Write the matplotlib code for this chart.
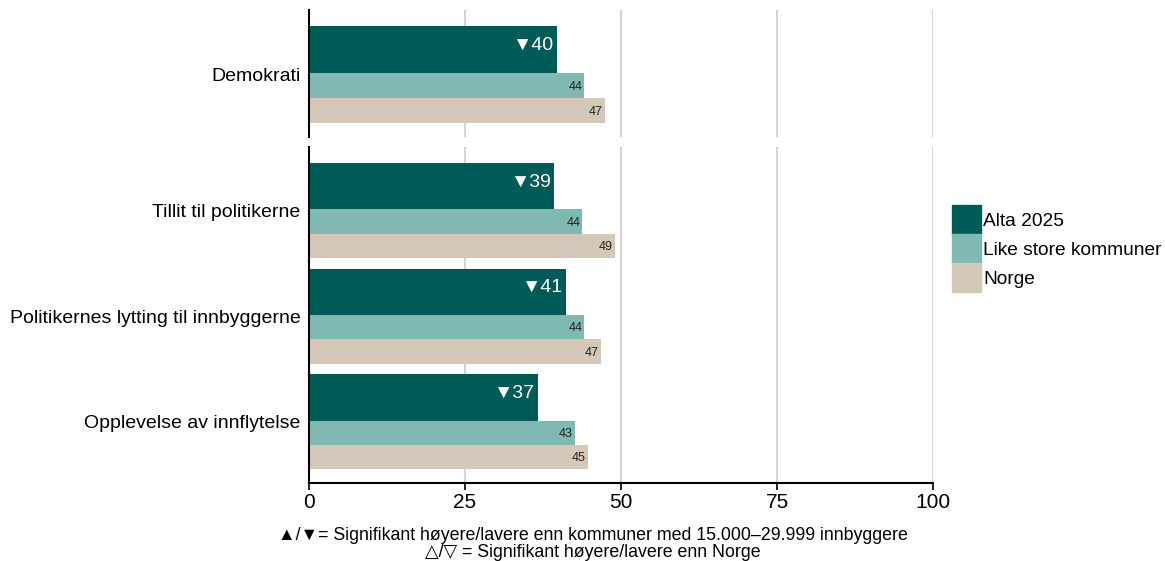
import numpy as np
import matplotlib
matplotlib.use("Agg")
import matplotlib.pyplot as plt
from matplotlib.patches import Patch

plt.rcParams['font.family'] = ['Liberation Sans', 'DejaVu Sans']

# data
top_cats = ["Demokrati"]
bottom_cats = ["Tillit til politikerne",
               "Politikernes lytting til innbyggerne",
               "Opplevelse av innflytelse"]
alta = [39.7, 39.3, 41.2, 36.7]
like = [44.1, 43.8, 44.1, 42.6]
norge = [47.4, 49.0, 46.8, 44.7]
alta_marks = ["\u25bc", "\u25bc", "\u25bc", "\u25bc"]
series_names = ["Alta 2025", "Like store kommuner", "Norge"]
xticks = [0, 25, 50, 75, 100]

c_alta = "#005a57"
c_like = "#7fb9b2"
c_norge = "#d6c8b9"
grid_c = "#d4d4d4"

fig = plt.figure(figsize=(11.65, 5.61), dpi=100)
ax_top = fig.add_axes([0.2652, 0.7558, 0.5357, 0.2264])
ax_bot = fig.add_axes([0.2652, 0.139, 0.5357, 0.599])


def draw(ax, cats, a, l, n, marks):
    y = np.arange(len(cats))
    # alta bar: upper part of group, others below
    ax.barh(y - 0.23, a, height=0.44, color=c_alta, zorder=2)
    ax.barh(y + 0.105, l, height=0.23, color=c_like, zorder=2)
    ax.barh(y + 0.335, n, height=0.23, color=c_norge, zorder=2)
    for i in range(len(cats)):
        ax.text(a[i] - 0.6, y[i] - 0.27, marks[i] + "%d" % round(a[i]),
                color="white", fontsize=14, ha="right", va="center", zorder=3)
        ax.text(l[i] - 0.3, y[i] + 0.115, "%d" % round(l[i]),
                color="#222222", fontsize=9, ha="right", va="center", zorder=3)
        ax.text(n[i] - 0.3, y[i] + 0.345, "%d" % round(n[i]),
                color="#222222", fontsize=9, ha="right", va="center", zorder=3)
    ax.set_yticks(y)
    ax.set_yticklabels(cats, fontsize=14)
    ax.tick_params(axis="y", length=0, pad=6)
    ax.set_xlim(0, 100)
    ax.set_ylim(len(cats) - 1 + 0.58, -0.6)
    ax.set_xticks(xticks)
    ax.grid(axis="x", color=grid_c, linewidth=1.5, zorder=0)
    for s in ["top", "right"]:
        ax.spines[s].set_visible(False)
    ax.spines["left"].set_linewidth(1.5)
    ax.spines["left"].set_zorder(4)


draw(ax_top, top_cats, alta[:1], like[:1], norge[:1], alta_marks[:1])
draw(ax_bot, bottom_cats, alta[1:], like[1:], norge[1:], alta_marks[1:])

ax_top.spines["bottom"].set_visible(False)
ax_top.tick_params(axis="x", length=0, labelbottom=False)
ax_bot.spines["bottom"].set_linewidth(1.5)
ax_bot.tick_params(axis="x", length=5, width=1.2, labelsize=15, pad=2)

handles = [Patch(color=c) for c in [c_alta, c_like, c_norge]]
fig.legend(handles, series_names, loc="center left", bbox_to_anchor=(0.817, 0.557),
           frameon=False, fontsize=13.8, handlelength=1.51, handleheight=1.95,
           labelspacing=0, handletextpad=0.12, borderaxespad=0, borderpad=0)

fig.text(0.509, 0.046, "\u25b2/\u25bc= Signifikant høyere/lavere enn kommuner med 15.000\u201329.999 innbyggere",
         ha="center", va="center", fontsize=12.8)
fig.text(0.509, 0.0145, "\u25b3/\u25bd = Signifikant høyere/lavere enn Norge",
         ha="center", va="center", fontsize=12.8)

fig.savefig("out.png", dpi=100)
